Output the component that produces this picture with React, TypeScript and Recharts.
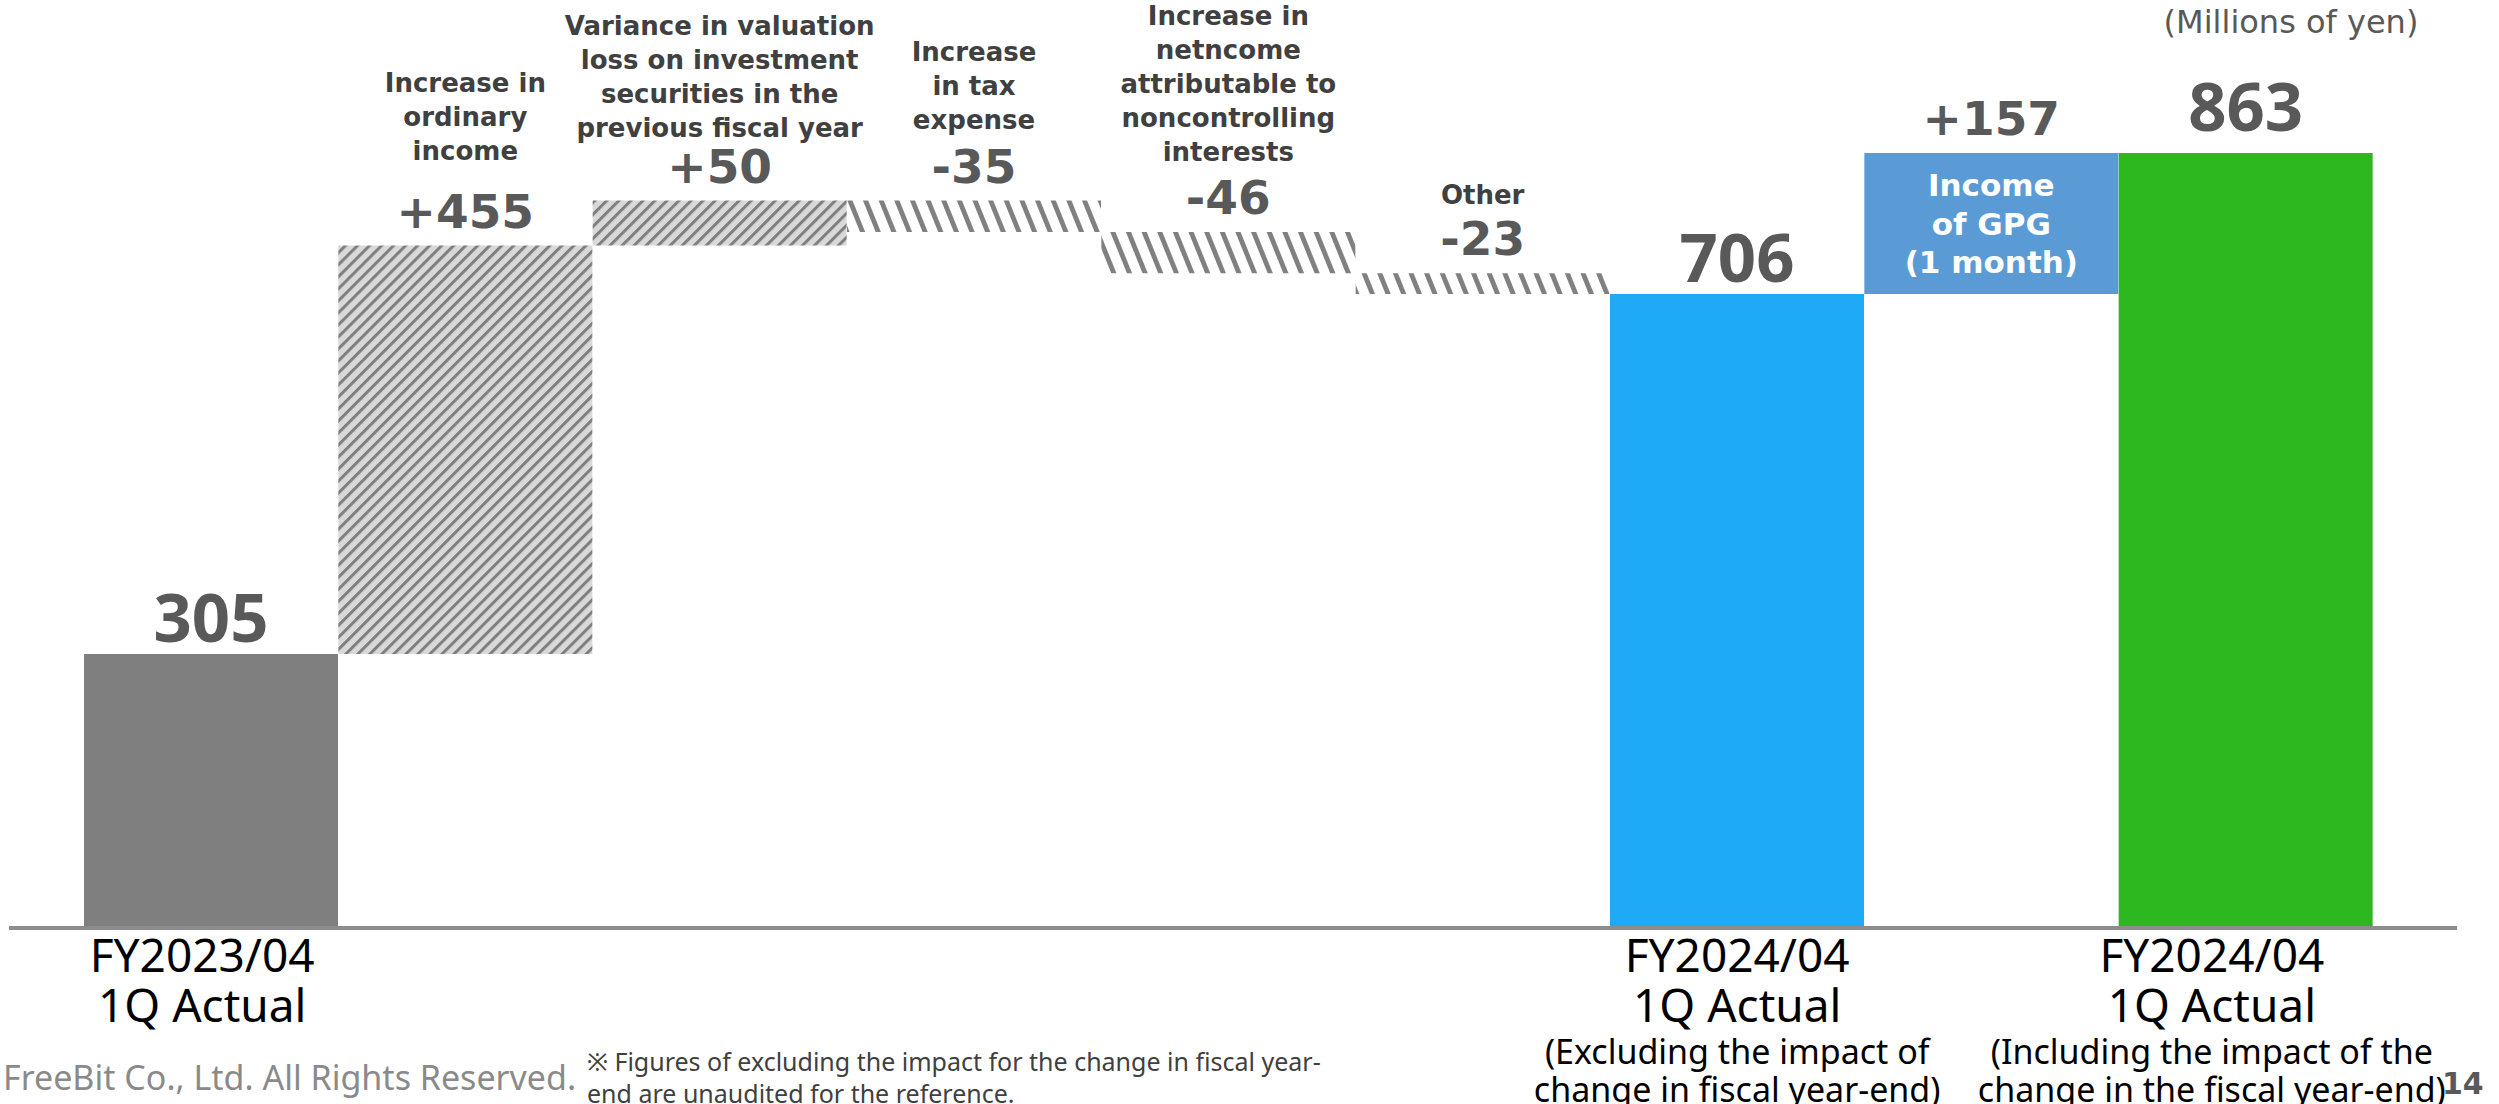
import { BarChart, Bar, XAxis, YAxis, Cell, LabelList } from "recharts";

// categories of the bridge, left to right
const categories = [
  "FY2023/04 1Q Actual",
  "Increase in ordinary income",
  "Variance in valuation loss on investment securities in the previous fiscal year",
  "Increase in tax expense",
  "Increase in netncome attributable to noncontrolling interests",
  "Other",
  "FY2024/04 1Q Actual (Excluding)",
  "Income of GPG (1 month)",
  "FY2024/04 1Q Actual (Including)",
];

// Millions of yen
const values = [305, 455, 50, -35, -46, -23, 706, 157, 863];
const kinds = ["total", "delta", "delta", "delta", "delta", "delta", "total", "delta", "total"];

const topLabels = [
  [],
  ["Increase in", "ordinary", "income"],
  ["Variance in valuation", "loss on investment", "securities in the", "previous fiscal year"],
  ["Increase", "in tax", "expense"],
  ["Increase in", "netncome", "attributable to", "noncontrolling", "interests"],
  ["Other"],
  [],
  [],
  [],
];

const innerLabels = [[], [], [], [], [], [], [], ["Income", "of GPG", "(1 month)"], []];

const tickLabels = [
  ["FY2023/04", "1Q Actual"],
  [],
  [],
  [],
  [],
  [],
  ["FY2024/04", "1Q Actual", "(Excluding the impact of", "change in fiscal year-end)"],
  [],
  ["FY2024/04", "1Q Actual", "(Including the impact of the", "change in the fiscal year-end)"],
];

// styles
const fills = [
  "#7f7f7f",
  "url(#hatchUp)",
  "url(#hatchUp)",
  "url(#hatchDown)",
  "url(#hatchDown)",
  "url(#hatchDown)",
  "#1faaf8",
  "#5b9bd5",
  "#2db81f",
];
const tickShift = [-9, 0, 0, 0, 0, 0, 0, 0, -34];
const descGap = [0, 60, 38, 46, 45, 43, 0, 0, 0];
const labelLift = [0, 0, 0, 0, 0, 0, 0, 0, 10];

let running = 0;
const data = categories.map((name, i) => {
  const v = values[i];
  let low = 0;
  let high = v;
  if (kinds[i] === "total") {
    running = v;
  } else {
    low = Math.min(running, running + v);
    high = Math.max(running, running + v);
    running += v;
  }
  return { name, low, high };
});

const BarLabel = (props: any) => {
  const vb = props.viewBox || {};
  const x = props.x ?? vb.x;
  const y = props.y ?? vb.y;
  const width = props.width ?? vb.width;
  const height = props.height ?? vb.height;
  const index = props.index;
  const top = Math.min(y, y + height);
  const bottom = Math.max(y, y + height);
  const cx = x + width / 2;
  const v = values[index];
  const isTotal = kinds[index] === "total";
  const numCenter = top - 35;
  const lines = topLabels[index];
  const inner = innerLabels[index];
  const midY = (top + bottom) / 2;
  return (
    <g>
      {isTotal ? (
        <text x={cx} y={top - 12 - labelLift[index]} textAnchor="middle" fill="#595959"
          style={{ fontFamily: "Noto Sans", fontWeight: 700, fontSize: 67 }}>
          {v}
        </text>
      ) : (
        <text x={cx} y={top - 18} textAnchor="middle" fill="#595959"
          style={{ fontFamily: "DejaVu Sans", fontWeight: 700, fontSize: 47 }}>
          {v > 0 ? `+${v}` : `${v}`}
        </text>
      )}
      {lines.map((t, k) => (
        <text key={k} x={cx} textAnchor="middle" fill="#404040"
          y={numCenter - descGap[index] + 9 - (lines.length - 1 - k) * 34}
          style={{ fontFamily: "DejaVu Sans", fontWeight: 700, fontSize: 26 }}>
          {t}
        </text>
      ))}
      {inner.map((t, k) => (
        <text key={"i" + k} x={cx} textAnchor="middle" fill="#ffffff"
          y={midY + 11 + (k - (inner.length - 1) / 2) * 38.5}
          style={{ fontFamily: "DejaVu Sans", fontWeight: 700, fontSize: 31 }}>
          {t}
        </text>
      ))}
    </g>
  );
};

const CategoryTick = (props: any) => {
  const { x, y, payload } = props;
  const i = payload.index;
  const lines = tickLabels[i] || [];
  const base = [44, 94, 136, 174];
  return (
    <g>
      {lines.map((t, k) => (
        <text key={k} x={x + tickShift[i]} y={y + base[k]} textAnchor="middle" fill="#000"
          style={{ fontFamily: "Noto Sans", fontSize: k < 2 ? 46 : 34 }}>
          {t}
        </text>
      ))}
    </g>
  );
};

export default function App() {
  return (
    <div style={{ position: "absolute", left: 0, top: 0, width: 2499, height: 1104, background: "#fff", overflow: "hidden" }}>
      <svg width={0} height={0} style={{ position: "absolute" }}>
        <defs>
          <pattern id="hatchUp" width={8.5} height={8.5} patternUnits="userSpaceOnUse" patternTransform="rotate(45)">
            <rect width={8.5} height={8.5} fill="#d9d9d9" />
            <rect width={3} height={8.5} fill="#7f7f7f" />
          </pattern>
          <pattern id="hatchDown" width={14.5} height={14.5} patternUnits="userSpaceOnUse" patternTransform="rotate(-22)">
            <rect width={14.5} height={14.5} fill="#ffffff" />
            <rect width={4.8} height={14.5} fill="#808080" />
          </pattern>
        </defs>
      </svg>
      <BarChart width={2499} height={1104} data={data} barCategoryGap={0}
        margin={{ top: 30, right: 42, bottom: 0, left: 9 }}>
        <XAxis dataKey="name" height={176} interval={0}
          axisLine={{ stroke: "#8c8c8c", strokeWidth: 4 }}
          tickLine={false} tickSize={0} tickMargin={0}
          padding={{ left: 75, right: 84 }}
          tick={<CategoryTick />} />
        <YAxis hide domain={[0, 1000]} />
        <Bar dataKey={(d: any) => [d.low, d.high]} isAnimationActive={false}>
          {data.map((d, i) => (
            <Cell key={d.name} fill={fills[i]} />
          ))}
          <LabelList dataKey="high" content={BarLabel} />
        </Bar>
      </BarChart>
      <div style={{ position: "absolute", left: 2141, top: 2, width: 300, lineHeight: "40px", textAlign: "center",
        fontFamily: "DejaVu Sans", fontSize: 32, color: "#595959" }}>
        (Millions of yen)
      </div>
      <div style={{ position: "absolute", left: 3, top: 1057, lineHeight: "40px", whiteSpace: "nowrap",
        fontFamily: "Noto Sans", fontSize: 34, color: "#8a8a8a" }}>
        FreeBit Co., Ltd. All Rights Reserved.
      </div>
      <div style={{ position: "absolute", left: 587, top: 1045, lineHeight: "32px", whiteSpace: "nowrap",
        fontFamily: "'Noto Sans', 'Noto Sans CJK JP'", fontSize: 25, color: "#404040" }}>
        ※ Figures of excluding the impact for the change in fiscal year-
        <br />
        end are unaudited for the reference.
      </div>
      <div style={{ position: "absolute", left: 2442, top: 1066, lineHeight: "36px",
        fontFamily: "DejaVu Sans", fontWeight: 700, fontSize: 30, color: "#595959" }}>
        14
      </div>
    </div>
  );
}
